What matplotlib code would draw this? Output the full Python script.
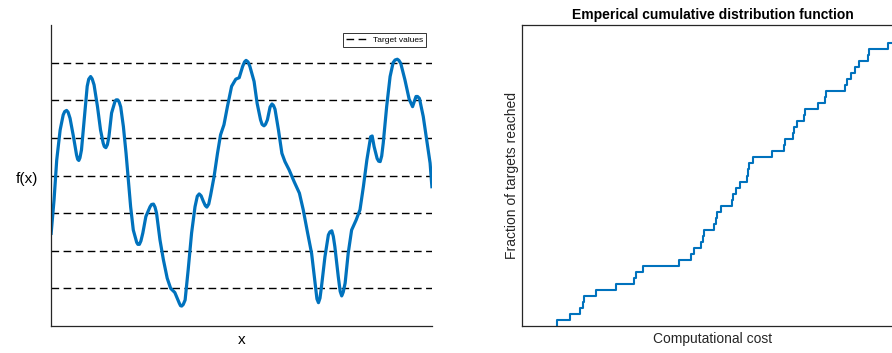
import numpy as np
import matplotlib.pyplot as plt

plt.rcParams['font.family'] = ['Liberation Sans', 'DejaVu Sans']

# objective function sampled along x (x scaled to 0..1)
x = [0.000, 0.008, 0.015, 0.024, 0.032, 0.036, 0.041, 0.045, 0.050, 0.059,
     0.067, 0.070, 0.073, 0.076, 0.080, 0.088, 0.095, 0.099, 0.104, 0.108,
     0.113, 0.122, 0.130, 0.137, 0.140, 0.144, 0.148, 0.152, 0.159, 0.168,
     0.171, 0.175, 0.179, 0.183, 0.190, 0.197, 0.203, 0.209, 0.216, 0.225,
     0.228, 0.232, 0.236, 0.241, 0.249, 0.260, 0.264, 0.269, 0.273, 0.277,
     0.286, 0.295, 0.305, 0.314, 0.325, 0.337, 0.340, 0.343, 0.347, 0.352,
     0.360, 0.369, 0.378, 0.384, 0.389, 0.394, 0.400, 0.405, 0.409, 0.414,
     0.419, 0.428, 0.437, 0.445, 0.454, 0.463, 0.474, 0.485, 0.494, 0.503,
     0.508, 0.512, 0.517, 0.522, 0.533, 0.541, 0.550, 0.554, 0.559, 0.563,
     0.568, 0.575, 0.580, 0.584, 0.588, 0.597, 0.606, 0.614, 0.625, 0.638,
     0.652, 0.662, 0.673, 0.684, 0.693, 0.698, 0.702, 0.706, 0.710, 0.719,
     0.728, 0.732, 0.737, 0.741, 0.745, 0.754, 0.759, 0.763, 0.767, 0.772,
     0.780, 0.789, 0.801, 0.811, 0.820, 0.829, 0.839, 0.843, 0.848, 0.856,
     0.860, 0.864, 0.868, 0.872, 0.881, 0.890, 0.898, 0.903, 0.909, 0.913,
     0.918, 0.929, 0.940, 0.949, 0.953, 0.958, 0.962, 0.967, 0.977, 0.986,
     0.995, 1.000]
fx = [2.42, 3.35, 4.41, 5.21, 5.61, 5.70, 5.73, 5.68, 5.52, 5.03,
      4.55, 4.43, 4.40, 4.47, 4.68, 5.57, 6.37, 6.56, 6.63, 6.57,
      6.41, 5.83, 5.21, 4.86, 4.77, 4.74, 4.82, 5.03, 5.66, 5.97,
      6.01, 6.01, 5.95, 5.82, 5.30, 4.59, 3.88, 3.17, 2.55, 2.22,
      2.17, 2.17, 2.26, 2.47, 2.91, 3.17, 3.23, 3.24, 3.16, 3.00,
      2.29, 1.76, 1.27, 1.00, 0.89, 0.60, 0.54, 0.53, 0.57, 0.69,
      1.49, 2.47, 3.17, 3.45, 3.51, 3.46, 3.31, 3.20, 3.16, 3.24,
      3.48, 3.97, 4.59, 5.08, 5.35, 5.83, 6.37, 6.56, 6.60, 6.90,
      7.02, 7.06, 7.02, 6.90, 6.50, 5.92, 5.48, 5.36, 5.32, 5.36,
      5.48, 5.82, 5.90, 5.86, 5.76, 5.21, 4.59, 4.37, 4.15, 3.84,
      3.53, 3.09, 2.50, 1.93, 1.14, 0.72, 0.62, 0.74, 1.05, 1.84,
      2.42, 2.50, 2.53, 2.38, 2.11, 1.31, 0.92, 0.80, 0.90, 1.14,
      1.93, 2.55, 2.82, 3.09, 3.71, 4.41, 5.03, 5.05, 4.77, 4.45,
      4.38, 4.37, 4.52, 4.86, 5.83, 6.63, 7.00, 7.07, 7.09, 7.06,
      6.98, 6.54, 6.03, 5.83, 5.95, 6.10, 6.10, 6.05, 5.57, 4.95,
      4.33, 3.66]
targets = [1, 2, 3, 4, 5, 6, 7]

# cost at which each target was reached (sorted), out of n_total
costs = [9.1, 12.6, 15.35, 15.9, 16.3, 19.3, 24.8, 29.5, 30.05, 31.8,
         41.2, 44.4, 45.2, 47.0, 47.4, 47.8, 50.4, 50.9, 51.3, 52.2,
         55.0, 55.3, 56.2, 57.2, 59.0, 59.25, 59.7, 60.55, 65.5, 68.8,
         69.05, 71.05, 71.4, 72.3, 74.0, 74.35, 77.6, 79.6, 79.8, 84.8,
         85.4, 86.3, 87.4, 88.5, 90.9, 91.0, 96.1]
n_total = 50

blue = '#0072BD'
spine_col = '#262626'

fig = plt.figure(figsize=(8.92, 3.53), dpi=100)
ax1 = fig.add_axes([51/892, 27/353, 381/892, 301/353])
ax2 = fig.add_axes([522/892, 27/353, 381/892, 301/353])

# left: function with target levels
for i, t in enumerate(targets):
    ax1.axhline(t, color='black', lw=1.0, dashes=(5.5, 3.2),
                label='Target values' if i == 0 else None, zorder=1)
ax1.plot(x, fx, color=blue, lw=2.3, solid_joinstyle='round',
         solid_capstyle='butt', zorder=2)
ax1.set_xlim(0, 1)
ax1.set_ylim(0, 8)
ax1.set_xticks([])
ax1.set_yticks([])
for s in ['top', 'right']:
    ax1.spines[s].set_visible(False)
for s in ['left', 'bottom']:
    ax1.spines[s].set_color(spine_col)
    ax1.spines[s].set_linewidth(0.9)
ax1.set_xlabel('x', fontsize=11, labelpad=5)
ax1.set_ylabel('f(x)', fontsize=11, rotation=0, ha='right', va='center')
ax1.yaxis.set_label_coords(-0.035, 0.49)
leg = ax1.legend(loc='upper right', bbox_to_anchor=(0.984, 0.973),
                 borderaxespad=0, fontsize=6, handlelength=2.6,
                 handletextpad=0.6, borderpad=0.35, fancybox=False,
                 framealpha=1, edgecolor='#333333')
leg.get_frame().set_linewidth(0.7)

# right: empirical CDF of targets reached
levels = np.arange(1, len(costs) + 1) / n_total
xs = np.r_[costs[0], costs, 101]
ys = np.r_[0, levels, levels[-1]]
ax2.step(xs, ys, where='post', color=blue, lw=1.5)
ax2.set_xlim(0, 100)
ax2.set_ylim(0, 1)
ax2.set_xticks([])
ax2.set_yticks([])
for s in ax2.spines.values():
    s.set_color(spine_col)
    s.set_linewidth(0.9)
ax2.set_title('Emperical cumulative distribution function', fontsize=10,
              fontweight='bold', pad=4)
ax2.set_xlabel('Computational cost', fontsize=10, labelpad=4, color='#262626')
ax2.set_ylabel('Fraction of targets reached', fontsize=10, labelpad=2,
               color='#262626')

fig.savefig('out.png', dpi=100)
